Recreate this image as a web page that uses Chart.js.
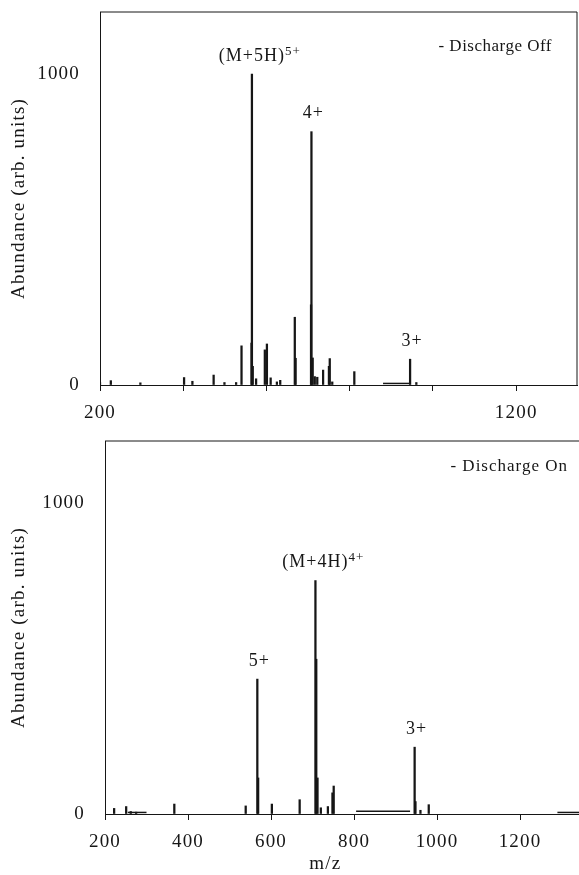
<!doctype html>
<html lang="en">
<head>
<meta charset="utf-8">
<title>Abundance vs m/z, discharge off / on</title>
<style>
  * { margin: 0; padding: 0; }
  body { width: 579px; height: 875px; background: #fff; position: relative; overflow: hidden; }
  .panel { position: absolute; left: 0; }
  #offBox { top: 0; }
  #onBox { top: 430px; }
</style>
</head>
<body>
<div class="panel" id="offBox"><canvas id="offChart" width="579" height="430"></canvas></div>
<div class="panel" id="onBox"><canvas id="onChart" width="579" height="445"></canvas></div>
<script src="https://cdn.jsdelivr.net/npm/chart.js/dist/chart.umd.min.js"></script>
<script>
// --- discharge off (top spectrum) ---
const offMz    = [200, 226, 297, 402, 422, 473, 499, 527, 540, 564, 565, 567, 575, 596, 601, 610, 625, 633, 668, 670, 707, 708, 711, 716, 722, 736, 750, 752, 758, 811, 945, 960];
const offAbund = [8, 14, 7, 24, 12, 32, 8, 8, 126, 135, 1000, 60, 20, 113, 132, 23, 10, 15, 218, 86, 258, 815, 87, 27, 25, 48, 60, 85, 10, 43, 83, 8];
// raised baseline stretches: [from m/z, to m/z, level]
const offShelves = [[880, 943, 5]];
const offLabelMz   = [565, 708, 945];
const offLabelText = ['(M+5H)', '4+', '3+'];
const offLabelSup  = ['5+', '', ''];

// --- discharge on (bottom spectrum) ---
const onMz    = [222, 251, 262, 275, 367, 539, 567, 569, 602, 669, 707, 709, 712, 720, 737, 748, 751, 946, 948, 960, 980];
const onAbund = [18, 24, 8, 6, 32, 26, 434, 116, 32, 46, 751, 498, 116, 20, 24, 68, 90, 215, 40, 12, 30];
const onShelves = [[255, 300, 5], [805, 935, 9], [1290, 1342, 5]];
const onLabelMz   = [567, 707, 946];
const onLabelText = ['5+', '(M+4H)', '3+'];
const onLabelSup  = ['', '4+', ''];

// axes
const xTicks = [200, 400, 600, 800, 1000, 1200];
const offXLabels = [200, 1200];
const onXLabels = [200, 400, 600, 800, 1000, 1200];
const yTicks = [0, 1000];

const ink = '#161616';
const serif = "'Liberation Serif', 'DejaVu Serif', serif";

Chart.defaults.font.family = serif;
Chart.defaults.font.size = 19;
Chart.defaults.color = ink;

// spaced-out lettering like the scanned figure
const spacing = {
  id: 'spacing',
  beforeUpdate(chart) { chart.ctx.letterSpacing = '1.2px'; },
  beforeDraw(chart) { chart.ctx.letterSpacing = '1.2px'; }
};

// frame lines, peak labels, panel caption
const extras = {
  id: 'extras',
  afterDraw(chart, args, o) {
    const { ctx, chartArea: a, scales: { x, y } } = chart;
    ctx.save();
    ctx.strokeStyle = ink;
    ctx.lineWidth = 1;
    ctx.beginPath();
    ctx.moveTo(a.left, a.top);
    if (o.boxRight) {
      ctx.lineTo(a.right, a.top);
      ctx.lineTo(a.right, a.bottom);
    } else {
      ctx.lineTo(chart.width, a.top);
    }
    ctx.stroke();

    ctx.fillStyle = ink;
    ctx.textBaseline = 'middle';
    o.labelMz.forEach((m, i) => {
      const h = o.abund[o.mz.indexOf(m)];
      const px = x.getPixelForValue(m);
      const py = y.getPixelForValue(h) - 18;
      ctx.letterSpacing = '1px';
      ctx.font = '18px ' + serif;
      if (o.labelSup[i]) {
        ctx.textAlign = 'center';
        const w = ctx.measureText(o.labelText[i]).width;
        ctx.fillText(o.labelText[i], px, py);
        ctx.font = '13px ' + serif;
        ctx.textAlign = 'left';
        ctx.fillText(o.labelSup[i], px + w / 2, py - 5);
      } else {
        ctx.textAlign = 'center';
        ctx.fillText(o.labelText[i], px + 2, py);
      }
    });

    ctx.font = '17px ' + serif;
    ctx.letterSpacing = o.captionSpacing;
    ctx.textAlign = 'right';
    ctx.fillText(o.caption, a.right - o.captionRight, a.top + o.captionDown);

    if (o.xTitle) {
      ctx.font = '19px ' + serif;
      ctx.letterSpacing = '1.2px';
      ctx.textAlign = 'center';
      ctx.fillText(o.xTitle, a.left + (a.right - a.left) * 0.465, chart.height - 11);
    }
    ctx.restore();
  }
};

function makePanel(id, mz, abund, shelves, p) {
  const datasets = [{
    type: 'bar',
    data: mz.map((m, i) => ({ x: m, y: abund[i] })),
    backgroundColor: ink,
    barThickness: 1.6,
    grouped: false
  }];
  shelves.forEach(s => datasets.push({
    type: 'line',
    data: [{ x: s[0], y: s[2] }, { x: s[1], y: s[2] }],
    borderColor: ink,
    borderWidth: 1.5,
    pointRadius: 0
  }));

  return new Chart(document.getElementById(id), {
    type: 'bar',
    data: { datasets },
    plugins: [spacing, extras],
    options: {
      responsive: false,
      animation: false,
      layout: { padding: { top: p.top, right: p.right, left: 0, bottom: 0 } },
      plugins: {
        legend: { display: false },
        tooltip: { enabled: false },
        extras: {
          mz, abund,
          labelMz: p.labelMz, labelText: p.labelText, labelSup: p.labelSup,
          boxRight: p.boxRight,
          caption: p.caption, captionRight: p.captionRight, captionDown: p.captionDown,
          captionSpacing: p.captionSpacing,
          xTitle: p.xTitle
        }
      },
      scales: {
        x: {
          type: 'linear',
          min: 200,
          max: p.xMax,
          offset: false,
          afterBuildTicks: s => { s.ticks = xTicks.map(v => ({ value: v })); },
          afterFit: s => {
            s.height = p.xHeight;
            s.paddingLeft = 0;
            s.paddingRight = 0;
          },
          ticks: {
            autoSkip: false,
            maxRotation: 0,
            padding: 11,
            callback: v => p.xLabels.includes(v) ? String(v) : ''
          },
          grid: { drawOnChartArea: false, drawTicks: true, tickLength: 6, color: ink, offset: false },
          border: { display: true, color: ink, width: 1 }
        },
        y: {
          min: 0,
          max: 1200,
          afterBuildTicks: s => { s.ticks = yTicks.map(v => ({ value: v })); },
          afterFit: s => {
            s.width = p.yWidth;
            s.paddingTop = 0;
            s.paddingBottom = 0;
          },
          ticks: { padding: 20, callback: v => String(v) },
          grid: { drawOnChartArea: false, drawTicks: false },
          border: { display: true, color: ink, width: 1 },
          title: {
            display: true,
            text: 'Abundance (arb. units)',
            padding: { top: 8, bottom: 0 }
          }
        }
      }
    }
  });
}

makePanel('offChart', offMz, offAbund, offShelves, {
  top: 12, right: 2, yWidth: 100, xHeight: 45, xMax: 1346,
  xLabels: offXLabels,
  labelMz: offLabelMz, labelText: offLabelText, labelSup: offLabelSup,
  boxRight: true,
  caption: '- Discharge Off', captionRight: 25, captionDown: 35, captionSpacing: '0.5px'
});

makePanel('onChart', onMz, onAbund, onShelves, {
  top: 11, right: 0, yWidth: 105, xHeight: 61, xMax: 1342,
  xLabels: onXLabels,
  labelMz: onLabelMz, labelText: onLabelText, labelSup: onLabelSup,
  boxRight: false,
  caption: '- Discharge On', captionRight: 11, captionDown: 26, captionSpacing: '1px',
  xTitle: 'm/z'
});
</script>
</body>
</html>
